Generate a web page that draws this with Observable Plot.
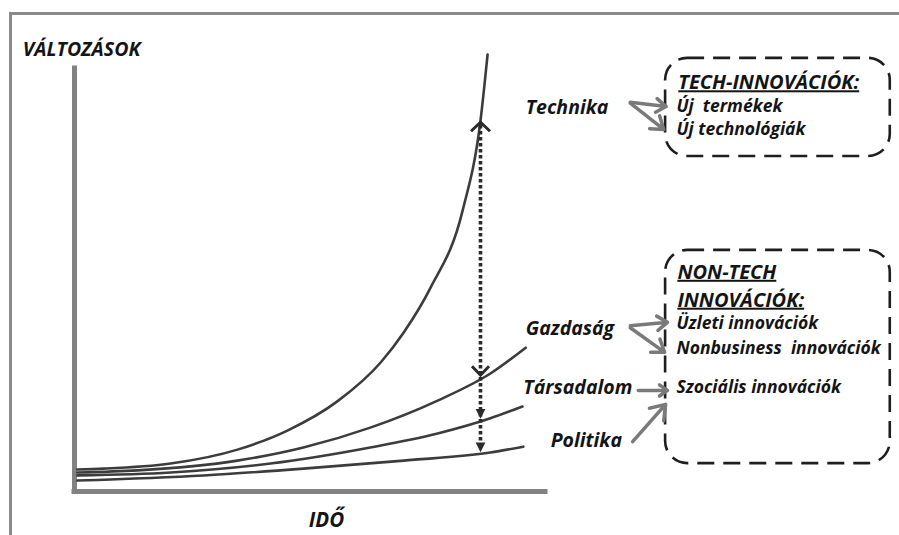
<!DOCTYPE html>
<html>
<head>
<meta charset="utf-8">
<script src="https://cdn.jsdelivr.net/npm/d3@7"></script>
<script src="https://cdn.jsdelivr.net/npm/@observablehq/plot@0.6"></script>
<style>
  html, body { margin: 0; padding: 0; background: #fff; }
  #wrap { position: relative; width: 899px; height: 535px; overflow: hidden; }
  #frame { position: absolute; left: 9px; top: 12px; right: -5px; bottom: -5px;
           border-top: 3px solid #8a8a8a; border-left: 3px solid #8a8a8a; pointer-events: none; }
</style>
</head>
<body>
<div id="wrap"><div id="frame"></div></div>
<script>
// ---- Curves (time units 0..100, change units 0..100) ----
const technikaT = [0.6, 6.2, 20.4, 34.6, 45.2, 55.8, 65.0, 69.9, 75.6, 82.4, 86.2, 87.7];
const technikaV = [5.2, 5.4, 6.6, 9.9, 14.4, 21.3, 30.5, 37.6, 48.2, 66.4, 87.7, 103.3];
const gazdasagT = [0.6, 13.4, 34.6, 48.6, 62.8, 77.1, 88.3, 95.8];
const gazdasagV = [4.5, 5.0, 7.3, 10.4, 15.1, 21.5, 27.9, 34.0];
const tarsadalomT = [0.6, 20.4, 41.6, 62.8, 77.1, 88.3, 95.1];
const tarsadalomV = [3.8, 4.5, 6.6, 10.4, 13.7, 17.3, 20.1];
const politikaT = [0.6, 27.4, 48.6, 69.9, 88.3, 95.3];
const politikaV = [2.6, 3.8, 5.4, 7.3, 9.2, 10.6];

// ---- Gap arrow (measured at time 86.2) ----
const gapTime = 86.2;
const gapLevels = [87.7, 27.0, 16.8, 9.0]; // Technika, Gazdaság, Társadalom, Politika

// ---- Labels ----
const axisTitles = ["VÁLTOZÁSOK", "IDŐ"];
const seriesNames = ["Technika", "Gazdaság", "Társadalom", "Politika"];
const techHeading = ["TECH-INNOVÁCIÓK:"];
const techItems = ["Új  termékek", "Új technológiák"];
const nonTechHeading = ["NON-TECH", "INNOVÁCIÓK:"];
const nonTechItems = ["Üzleti innovációk", "Nonbusiness  innovációk", "Szociális innovációk"];

// ---- Build tables ----
const curves = [
  ...technikaT.map((t, i) => ({s: "Technika", t, v: technikaV[i]})),
  ...gazdasagT.map((t, i) => ({s: "Gazdaság", t, v: gazdasagV[i]})),
  ...tarsadalomT.map((t, i) => ({s: "Társadalom", t, v: tarsadalomV[i]})),
  ...politikaT.map((t, i) => ({s: "Politika", t, v: politikaV[i]}))
];

const seriesLabelPos = [
  {x: 95.8, y: 90.8}, {x: 95.8, y: 38.5}, {x: 95.3, y: 24.6}, {x: 101.1, y: 12.1}
];
const seriesLabels = seriesNames.map((text, i) => ({text, ...seriesLabelPos[i]}));

const boxTexts = [
  {text: techHeading[0], x: 128.2, y: 96.6, head: true},
  {text: techItems[0], x: 127.8, y: 91.0},
  {text: techItems[1], x: 127.8, y: 85.5},
  {text: nonTechHeading[0], x: 128.0, y: 51.8, head: true},
  {text: nonTechHeading[1], x: 128.0, y: 45.2, head: true},
  {text: nonTechItems[0], x: 127.8, y: 39.7},
  {text: nonTechItems[1], x: 127.8, y: 33.8},
  {text: nonTechItems[2], x: 127.8, y: 24.6}
];

const boxes = [
  {x1: 125.5, x2: 173.2, y1: 79.2, y2: 102.4},
  {x1: 125.5, x2: 173.2, y1: 6.6, y2: 57.0}
];

const grayArrows = [
  {x1: 118.0, y1: 92.0, x2: 125.6, y2: 91.0},
  {x1: 118.0, y1: 91.8, x2: 125.1, y2: 85.6},
  {x1: 118.0, y1: 39.2, x2: 125.9, y2: 40.0},
  {x1: 118.0, y1: 38.7, x2: 125.3, y2: 32.9},
  {x1: 119.7, y1: 23.9, x2: 125.9, y2: 23.9},
  {x1: 118.5, y1: 11.8, x2: 125.5, y2: 20.6}
];

// ---- Custom arrowhead symbols (tip at origin) ----
const chevronUp = {draw(ctx, size) { const r = Math.sqrt(size / Math.PI);
  ctx.moveTo(-r, r * 0.95); ctx.lineTo(0, 0); ctx.lineTo(r, r * 0.95); }};
const chevronDown = {draw(ctx, size) { const r = Math.sqrt(size / Math.PI);
  ctx.moveTo(-r, -r * 1.05); ctx.lineTo(0, 0); ctx.lineTo(r, -r * 1.05); }};
const triDown = {draw(ctx, size) { const r = Math.sqrt(size / Math.PI);
  ctx.moveTo(-r * 0.75, -r * 1.5); ctx.lineTo(0, 0); ctx.lineTo(r * 0.75, -r * 1.5); ctx.closePath(); }};

const font = "'Open Sans', Lato, sans-serif";
const ink = "#141414";

const chart = Plot.plot({
  width: 899,
  height: 535,
  margin: 0,
  x: {domain: [0, 100], range: [74, 545], axis: null},
  y: {domain: [0, 100], range: [491, 68], axis: null},
  marks: [
    // axes
    Plot.ruleX([0], {y1: 0, y2: 100, stroke: "#828282", strokeWidth: 5, strokeLinecap: "square"}),
    Plot.ruleY([0], {x1: 0, x2: 100, stroke: "#828282", strokeWidth: 5, strokeLinecap: "square"}),
    // curves
    Plot.line(curves, {x: "t", y: "v", z: "s", curve: "monotone-x", stroke: "#3c3c3c", strokeWidth: 2.6}),
    // dotted gap line
    Plot.ruleX([gapTime], {y1: gapLevels[3] + 1.5, y2: gapLevels[0] - 1, stroke: "#2a2a2a", strokeWidth: 3.6, strokeDasharray: "3.5,2.5"}),
    Plot.dot([{t: gapTime, v: gapLevels[0] - 0.4}], {x: "t", y: "v", r: 9.5, symbol: chevronUp, fill: "none", stroke: "#2a2a2a", strokeWidth: 3}),
    Plot.dot([{t: gapTime, v: gapLevels[1] + 0.5}], {x: "t", y: "v", r: 8.5, symbol: chevronDown, fill: "none", stroke: "#2a2a2a", strokeWidth: 3}),
    Plot.dot([{t: gapTime, v: gapLevels[2] + 0.4}, {t: gapTime, v: gapLevels[3] + 0.3}], {x: "t", y: "v", r: 6.5, symbol: triDown, fill: "#2a2a2a", stroke: "none"}),
    // dashed boxes
    Plot.rect(boxes, {x1: "x1", x2: "x2", y1: "y1", y2: "y2", rx: 22, fill: "none", stroke: "#1e1e1e", strokeWidth: 2.6, strokeDasharray: "17,9"}),
    // gray arrows
    Plot.arrow(grayArrows, {x1: "x1", y1: "y1", x2: "x2", y2: "y2", stroke: "#7a7a7a", strokeWidth: 3.5, headLength: 14, headAngle: 70}),
    // axis titles
    Plot.text([axisTitles[0]], {x: -11.0, y: 104.5, text: d => d, textAnchor: "start", fontSize: 19.5, fontWeight: "bold", fontStyle: "italic", fontFamily: font, fill: ink}),
    Plot.text([axisTitles[1]], {x: 53.5, y: -6.9, text: d => d, textAnchor: "middle", fontSize: 20.5, fontWeight: "bold", fontStyle: "italic", fontFamily: font, fill: ink}),
    // series labels
    Plot.text(seriesLabels, {x: "x", y: "y", text: "text", textAnchor: "start", fontSize: 19.5, fontWeight: "bold", fontStyle: "italic", fontFamily: font, fill: ink}),
    // box texts
    Plot.text(boxTexts, {x: "x", y: "y", text: "text", textAnchor: "start", fontSize: d => d.head ? 20 : 17.5, fontWeight: "bold", fontStyle: "italic", fontFamily: font, fill: ink})
  ]
});

document.getElementById("wrap").prepend(chart);

const headings = [...techHeading, ...nonTechHeading];
d3.select(chart).selectAll("text")
  .filter(function() { return headings.includes(this.textContent); })
  .style("text-decoration", "underline");
</script>
</body>
</html>
